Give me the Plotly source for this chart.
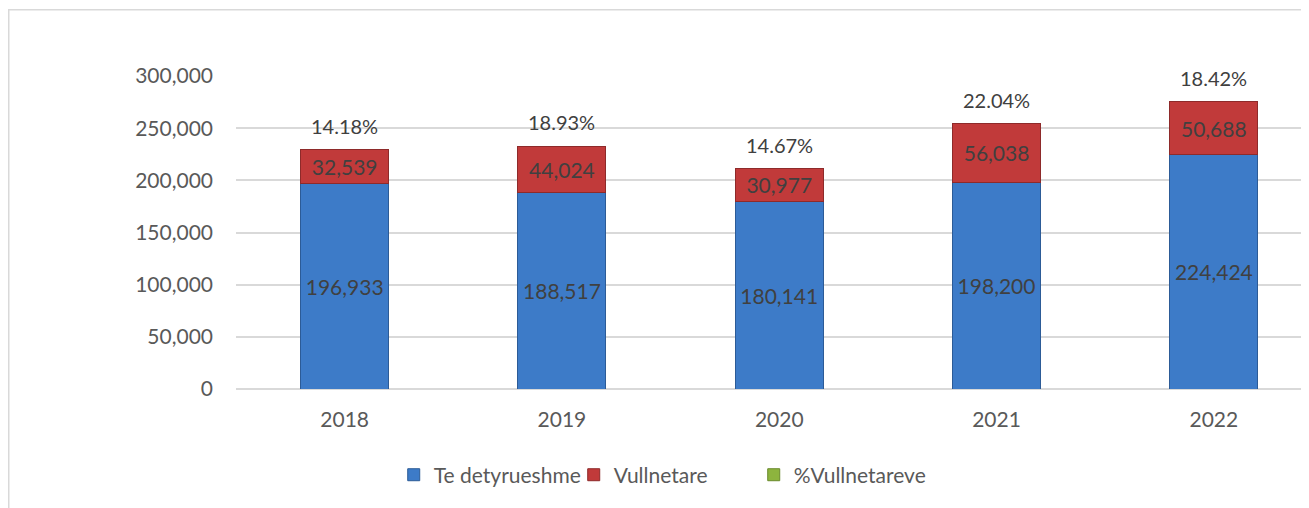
import plotly.graph_objects as go

years = ["2018", "2019", "2020", "2021", "2022"]
detyrueshme = [196933, 188517, 180141, 198200, 224424]
vullnetare = [32539, 44024, 30977, 56038, 50688]
pct_vullnetare = [14.18, 18.93, 14.67, 22.04, 18.42]

totals = [a + b for a, b in zip(detyrueshme, vullnetare)]

TEXT = "#404040"
TICK = "#595959"
FONT = "Lato, 'Open Sans', sans-serif"

fig = go.Figure()

fig.add_trace(
    go.Bar(
        x=years,
        y=detyrueshme,
        name="Te detyrueshme",
        marker=dict(color="#3D7BC8", line=dict(color="#2C5B97", width=1)),
        texttemplate="%{y:,}",
        textposition="inside",
        insidetextanchor="middle",
        textangle=0,
        insidetextfont=dict(color=TEXT, size=21, family=FONT),
        width=0.405,
    )
)

fig.add_trace(
    go.Bar(
        x=years,
        y=vullnetare,
        name="Vullnetare",
        marker=dict(color="#C13A3A", line=dict(color="#8E2A2A", width=1)),
        texttemplate="%{y:,}",
        textposition="inside",
        insidetextanchor="middle",
        textangle=0,
        insidetextfont=dict(color=TEXT, size=21, family=FONT),
        constraintext="none",
        width=0.405,
    )
)

# legend entry for the percentage series (shown as labels above the bars)
fig.add_trace(
    go.Bar(
        x=[years[0]],
        y=[None],
        name="%Vullnetareve",
        marker=dict(color="#8DB43E", line=dict(color="#6A8A2C", width=1)),
    )
)

for i, (tot, p) in enumerate(zip(totals, pct_vullnetare)):
    fig.add_annotation(
        x=i,
        y=tot,
        xref="x",
        yref="y",
        text=f"{p:.2f}%",
        showarrow=False,
        yanchor="middle",
        yshift=24,
        font=dict(color=TEXT, size=20, family=FONT),
    )

# outer chart border
fig.add_shape(
    type="rect",
    xref="paper",
    yref="paper",
    x0=-0.2118,
    x1=1.2,
    y0=-0.6,
    y1=1.212,
    line=dict(color="#D9D9D9", width=1.5),
    fillcolor="rgba(0,0,0,0)",
    layer="below",
)

fig.update_layout(
    barmode="stack",
    width=1301,
    height=500,
    margin=dict(l=228, r=0, t=68, b=119),
    paper_bgcolor="white",
    plot_bgcolor="white",
    font=dict(family=FONT, color=TICK, size=20),
    showlegend=True,
    legend=dict(
        orientation="h",
        x=0.147,
        xanchor="left",
        y=-0.275,
        yanchor="middle",
        font=dict(size=21, color=TICK, family=FONT),
        traceorder="normal",
        entrywidth=135,
        entrywidthmode="pixels",
    ),
    xaxis=dict(
        type="category",
        range=[-0.5, 4.438],
        showgrid=False,
        showline=False,
        ticks="",
        ticklabelstandoff=16,
        tickfont=dict(size=21, color=TICK, family=FONT),
    ),
    yaxis=dict(
        range=[0, 300000],
        tickvals=[0, 50000, 100000, 150000, 200000, 250000, 300000],
        tickformat=",",
        showgrid=True,
        gridcolor="#D9D9D9",
        gridwidth=1.5,
        zeroline=True,
        zerolinecolor="#D9D9D9",
        zerolinewidth=1.5,
        showline=False,
        ticks="",
        ticklabelstandoff=22,
        tickfont=dict(size=21, color=TICK, family=FONT),
    ),
)

fig.write_html("out.html")
